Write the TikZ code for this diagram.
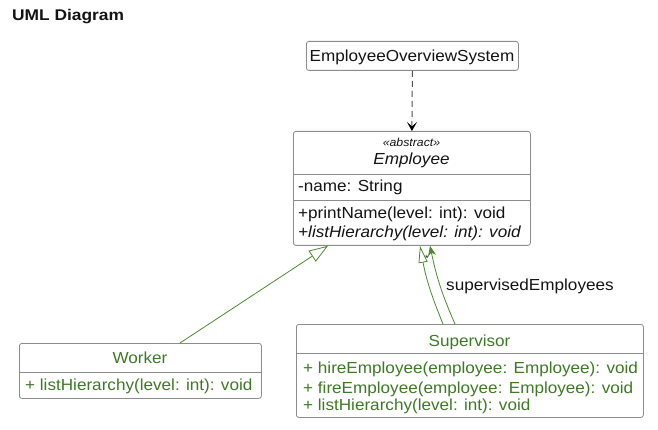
\documentclass[tikz,border=0pt]{standalone}
\usepackage{fontspec}
\setmainfont{Liberation Sans}[FakeStretch=1.07]
\newfontfamily\titlefont{Liberation Sans}[FakeStretch=1.12]
\usetikzlibrary{arrows.meta,calc}
\definecolor{umlgreen}{RGB}{62,122,38}
\definecolor{linegreen}{RGB}{74,138,46}
\definecolor{boxgray}{RGB}{140,140,140}
\definecolor{txtdark}{RGB}{20,20,20}
\definecolor{dashgray}{RGB}{80,80,80}
\tikzset{
  box/.style={draw=boxgray, line width=0.8pt, rounded corners=2.5pt, fill=white, inner sep=0pt, anchor=north west},
  sepline/.style={draw=boxgray, line width=0.8pt},
  txt/.style={inner sep=0pt, font=\fontsize{16}{19}\selectfont, text=txtdark},
  itxt/.style={txt, font=\fontsize{16}{19}\selectfont\itshape},
  gtxt/.style={txt, text=umlgreen},
  stereo/.style={inner sep=0pt, font=\fontsize{11.5}{13}\selectfont\itshape, text=txtdark},
  generalize/.style={draw=linegreen, line width=0.8pt, -{Triangle[open, length=19pt, width=13pt, fill=white]}},
  assoc/.style={draw=linegreen, line width=0.8pt, -{Stealth[length=10pt, width=8pt, inset=3pt]}},
  depend/.style={draw=dashgray, line width=1pt, dash pattern=on 6pt off 4pt, -{Stealth[length=9pt, width=10pt, inset=4.5pt, color=black, line width=0.6pt]}},
}
\begin{document}
\begin{tikzpicture}[x=1pt,y=-1pt]
\useasboundingbox (0,0) rectangle (658,430);

% title
\node[inner sep=0pt, anchor=base west, font=\titlefont\fontsize{15.5}{18}\selectfont\bfseries, text=txtdark] (title) at (12,20.7) {UML Diagram};

% boxes
\node[box, minimum width=212pt, minimum height=29pt] (eos) at (306,41) {};
\node[box, minimum width=237pt, minimum height=114pt] (emp) at (293,131) {};
\node[box, minimum width=242pt, minimum height=55pt] (wrk) at (19,343) {};
\node[box, minimum width=347pt, minimum height=93pt] (sup) at (296,324) {};

% separators
\draw[sepline] ($(emp.north west)+(0,43)$) -- ($(emp.north east)+(0,43)$);
\draw[sepline] ($(emp.north west)+(0,69)$) -- ($(emp.north east)+(0,69)$);
\draw[sepline] ($(wrk.north west)+(0,29)$) -- ($(wrk.north east)+(0,29)$);
\draw[sepline] ($(sup.north west)+(0,29)$) -- ($(sup.north east)+(0,29)$);

% texts
\node[txt, anchor=base] (eosname) at (412,61.5) {EmployeeOverviewSystem};
\node[stereo, anchor=base] (empstereo) at (411.5,147) {«abstract»};
\node[itxt, anchor=base] (empname) at (411.5,164.3) {Employee};
\node[txt, anchor=base west] (empattr) at (298,192) {-name: String};
\node[txt, anchor=base west] (empm1) at (298,218.3) {+printName(level: int): void};
\node[itxt, anchor=base west] (empm2) at (298,237.3) {+listHierarchy(level: int): void};

\node[gtxt, anchor=base] (wrkname) at (140,363.3) {Worker};
\node[gtxt, anchor=base west] (wrkm1) at (25,390.7) {+ listHierarchy(level: int): void};

\node[gtxt, anchor=base] (supname) at (469.5,346) {Supervisor};
\node[gtxt, anchor=base west] (supm1) at (303,373.3) {+ hireEmployee(employee: Employee): void};
\node[gtxt, anchor=base west] (supm2) at (303,393.3) {+ fireEmployee(employee: Employee): void};
\node[gtxt, anchor=base west] (supm3) at (303,410.7) {+ listHierarchy(level: int): void};

% connectors
\draw[depend] (eos.south) -- (emp.north);
\draw[generalize] ($(wrk.north west)+(161,0)$) -- ($(emp.south west)+(35,0)$);
\draw[generalize, -{Triangle[open, length=17pt, width=9pt, fill=white]}] ($(sup.north west)+(147,0)$) to[bend left=6] ($(emp.south west)+(127,0)$);
\draw[assoc] ($(sup.north west)+(159,0)$) to[bend left=6] ($(emp.south west)+(137,0)$);

% labels
\node[inner sep=0pt, font=\fontsize{9}{10}\selectfont, text=txtdark] (mult) at (427,258) {*};
\node[txt, anchor=base west] (rolelbl) at (446,290) {supervisedEmployees};
\end{tikzpicture}
\end{document}
